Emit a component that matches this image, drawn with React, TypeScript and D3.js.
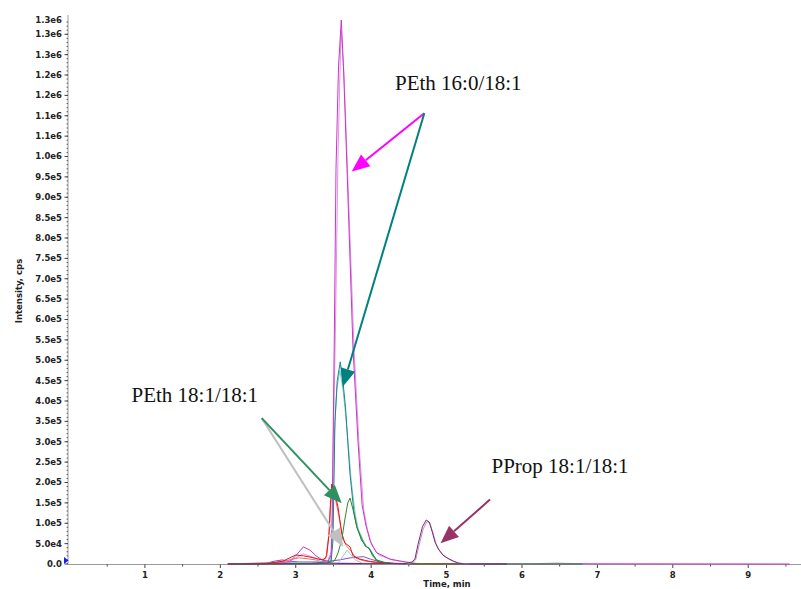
import React from "react";
import * as d3 from "d3";

// ---------- data (time in min, intensity in cps) ----------
const yTickValues = d3.range(0, 1300001, 50000);
const xTickValues = [1, 2, 3, 4, 5, 6, 7, 8, 9];

const magentaT = [2.1, 2.6, 2.92, 3.0, 3.1, 3.19, 3.27, 3.35, 3.43, 3.47, 3.48, 3.495, 3.51, 3.534, 3.567, 3.604, 3.633, 3.68, 3.759, 3.826, 3.88, 3.93, 3.99, 4.07, 4.25, 4.45, 4.6, 5.5, 7.0, 9.55];
const magentaV = [0, 1000, 5600, 20000, 42000, 34000, 20000, 10000, 7000, 22000, 83000, 300000, 530000, 970000, 1220000, 1335000, 1220000, 970000, 530000, 300000, 145000, 95000, 55000, 28000, 12000, 5000, 1000, 0, 500, 0];

const orchidT = [2.1, 2.7, 2.95, 3.1, 3.25, 3.42, 3.47, 3.485, 3.5, 3.525, 3.56, 3.6, 3.64, 3.69, 3.775, 3.84, 3.9, 3.95, 4.01, 4.1, 4.28, 4.48, 4.65, 5.5];
const orchidV = [0, 2000, 10000, 25000, 15000, 6000, 30000, 120000, 320000, 560000, 1000000, 1310000, 1200000, 950000, 520000, 290000, 135000, 85000, 45000, 22000, 10000, 4000, 800, 0];

const tealT = [2.1, 3.2, 3.47, 3.494, 3.507, 3.52, 3.55, 3.59, 3.63, 3.66, 3.69, 3.72, 3.77, 3.81, 3.87, 3.92, 3.97, 4.02, 4.08, 4.18, 4.4, 5.8];
const tealV = [0, 1000, 7000, 59000, 206000, 350000, 450000, 496000, 440000, 385000, 300000, 220000, 130000, 90000, 64000, 44000, 39000, 20000, 7000, 2500, 0, 0];

const cyanT = [2.1, 3.46, 3.485, 3.5, 3.515, 3.545, 3.585, 3.625, 3.66, 3.7, 3.735, 3.79, 3.83, 3.89, 3.94, 3.99, 4.04, 4.1, 4.2, 4.5];
const cyanV = [0, 6000, 50000, 190000, 330000, 430000, 475000, 430000, 370000, 285000, 205000, 120000, 85000, 60000, 42000, 36000, 18000, 6000, 2000, 0];

const redT = [2.1, 2.6, 2.83, 2.92, 3.0, 3.1, 3.19, 3.3, 3.37, 3.41, 3.44, 3.455, 3.477, 3.51, 3.56, 3.61, 3.65, 3.72, 3.76, 3.85, 3.99, 4.18, 4.5, 5.2];
const redV = [0, 1000, 7000, 15000, 22000, 20000, 17000, 12000, 10000, 20000, 71000, 133000, 196000, 180000, 140000, 76000, 52000, 42000, 20000, 12000, 6000, 2500, 500, 0];

const pinkRedT = [2.1, 2.8, 2.95, 3.05, 3.15, 3.3, 3.4, 3.445, 3.465, 3.485, 3.52, 3.57, 3.62, 3.67, 3.74, 3.8, 3.9, 4.1, 4.4];
const pinkRedV = [0, 4000, 12000, 15000, 13000, 9000, 14000, 80000, 150000, 185000, 165000, 120000, 65000, 45000, 30000, 14000, 8000, 2000, 0];

const greenT = [2.1, 3.3, 3.49, 3.52, 3.56, 3.61, 3.65, 3.69, 3.72, 3.76, 3.81, 3.87, 3.94, 3.97, 4.01, 4.07, 4.18, 4.32, 5.0, 6.8];
const greenV = [0, 500, 5000, 10000, 27000, 59000, 108000, 150000, 162000, 133000, 91000, 59000, 42000, 39000, 27000, 10000, 4000, 1000, 0, 0];

const lightBlueT = [3.3, 3.56, 3.63, 3.68, 3.72, 3.79, 3.88, 4.2, 6.0, 6.3, 6.45, 6.6, 6.9];
const lightBlueV = [0, 2000, 20000, 34000, 25000, 10000, 2000, 0, 0, 1500, 2500, 1500, 0];

const violetT = [2.1, 2.59, 2.72, 2.82, 2.92, 3.05, 3.32, 3.45, 3.58, 3.72, 3.83, 3.9, 3.99, 4.12, 4.25, 5.0];
const violetV = [0, 1000, 7000, 10000, 7000, 5000, 5000, 7000, 10000, 15000, 17000, 18000, 12000, 5000, 1000, 0];

const navyT = [2.1, 2.5, 3.0, 3.4, 3.9, 4.4, 5.2];
const navyV = [0, 800, 1500, 2000, 1200, 300, 0];

const ppropT = [2.1, 4.45, 4.54, 4.58, 4.62, 4.68, 4.73, 4.77, 4.81, 4.85, 4.89, 4.95, 5.02, 5.09, 5.15, 5.24, 5.8];
const ppropV = [0, 1000, 5000, 12000, 47000, 91000, 108000, 103000, 79000, 52000, 37000, 22000, 13500, 7000, 2500, 0, 0];

const ppropLightT = [4.45, 4.55, 4.59, 4.63, 4.69, 4.74, 4.78, 4.82, 4.86, 4.9, 4.96, 5.03, 5.1, 5.17, 5.3];
const ppropLightV = [0, 4000, 10000, 42000, 86000, 104000, 100000, 76000, 50000, 35000, 21000, 12500, 6000, 2000, 0];

// ---------- component ----------
const W = 801;
const H = 589;

type Series = { t: number[]; v: number[]; color: string; width: number };

const seriesList: Series[] = [
  { t: navyT, v: navyV, color: "#1c1c6a", width: 1 },
  { t: violetT, v: violetV, color: "#8a4fb0", width: 1 },
  { t: lightBlueT, v: lightBlueV, color: "#9cc3dc", width: 1 },
  { t: cyanT, v: cyanV, color: "#7cc8c8", width: 1 },
  { t: tealT, v: tealV, color: "#1d8585", width: 1 },
  { t: orchidT, v: orchidV, color: "#e094e0", width: 1 },
  { t: magentaT, v: magentaV, color: "#cc33cc", width: 1 },
  { t: pinkRedT, v: pinkRedV, color: "#f07070", width: 1 },
  { t: redT, v: redV, color: "#e01818", width: 1 },
  { t: greenT, v: greenV, color: "#2a8a2a", width: 1 },
  { t: ppropLightT, v: ppropLightV, color: "#c090c8", width: 1 },
  { t: ppropT, v: ppropV, color: "#7a2a7a", width: 1 },
];

type Arrow = { from: [number, number]; to: [number, number]; color: string };

const arrows: Arrow[] = [
  { from: [4.705, 1106000], to: [3.742, 963000], color: "#ff00ff" },
  { from: [4.705, 1106000], to: [3.623, 435000], color: "#008080" },
  { from: [2.549, 358000], to: [3.631, 42500], color: "#c0c0c0" },
  { from: [2.549, 358000], to: [3.61, 149000], color: "#2e9060" },
  { from: [5.576, 158000], to: [4.92, 51000], color: "#993366" },
];

const labels: { text: string; t: number; v: number }[] = [
  { text: "PEth 16:0/18:1", t: 4.316, v: 1163000 },
  { text: "PEth 18:1/18:1", t: 0.822, v: 398000 },
  { text: "PProp 18:1/18:1", t: 5.596, v: 223000 },
];

function fmtY(v: number): string {
  if (v === 0) return "0.0";
  return v.toExponential(1).replace("e+", "e");
}

export default function App() {
  const x = d3.scaleLinear().domain([-0.02, 9.7]).range([68, 801]);
  const y = d3.scaleLinear().domain([0, 1336000]).range([564, 19.6]);

  const line = d3
    .line<[number, number]>()
    .x((d) => x(d[0]))
    .y((d) => y(d[1]))
    .curve(d3.curveLinear);

  const minorY = d3.range(0, 1336001, 10000);
  const minorX = d3.range(0, 9.71, 0.5).filter((d) => !Number.isInteger(d));

  const tickFont = "'DejaVu Sans', sans-serif";

  return (
    <svg
      width={W}
      height={H}
      style={{ position: "absolute", left: 0, top: 0, background: "#fff" }}
    >
      <rect x={0} y={0} width={W} height={H} fill="#fff" />

      {/* axes */}
      <line x1={68} x2={68} y1={15} y2={564} stroke="#9a9a9a" strokeWidth={1} />
      <line x1={68} x2={801} y1={564.5} y2={564.5} stroke="#9a9a9a" strokeWidth={1} />
      {minorY.map((v) => (
        <line key={"my" + v} x1={66.5} x2={68} y1={y(v)} y2={y(v)} stroke="#444" strokeWidth={0.8} />
      ))}
      {yTickValues.map((v) => (
        <g key={"y" + v}>
          <line x1={64.5} x2={68} y1={y(v)} y2={y(v)} stroke="#444" strokeWidth={1} />
          <text
            x={62}
            y={y(v)}
            dy="0.35em"
            textAnchor="end"
            fontFamily={tickFont}
            fontWeight="bold"
            fontSize={8.5}
            fill="#222"
          >
            {fmtY(v)}
          </text>
        </g>
      ))}
      <text
        x={62}
        y={20}
        dy="0.35em"
        textAnchor="end"
        fontFamily={tickFont}
        fontWeight="bold"
        fontSize={8.5}
        fill="#222"
      >
        {fmtY(1336000)}
      </text>

      {minorX.map((t) => (
        <line key={"mx" + t} x1={x(t)} x2={x(t)} y1={564.5} y2={566.5} stroke="#444" strokeWidth={1} />
      ))}
      {xTickValues.map((t) => (
        <g key={"x" + t}>
          <line x1={x(t)} x2={x(t)} y1={564.5} y2={568} stroke="#444" strokeWidth={1} />
          <text
            x={x(t)}
            y={575}
            dy="0.35em"
            textAnchor="middle"
            fontFamily={tickFont}
            fontWeight="bold"
            fontSize={8.5}
            fill="#222"
          >
            {t}
          </text>
        </g>
      ))}
      <text
        x={447}
        y={584}
        dy="0.35em"
        textAnchor="middle"
        fontFamily={tickFont}
        fontWeight="bold"
        fontSize={8.5}
        fill="#222"
      >
        Time, min
      </text>
      <text
        transform="translate(19,291) rotate(-90)"
        dy="0.35em"
        textAnchor="middle"
        fontFamily={tickFont}
        fontWeight="bold"
        fontSize={8.5}
        fill="#222"
      >
        Intensity, cps
      </text>

      {/* origin marker */}
      <polygon points="64,557 64,564 68.5,560.5" fill="#1a1aff" />

      {/* traces */}
      {seriesList.map((s, i) => {
        const pts: [number, number][] = s.t.map((t, k) => [t, s.v[k]]);
        return (
          <path
            key={"s" + i}
            d={line(pts) || ""}
            fill="none"
            stroke={s.color}
            strokeWidth={s.width}
            strokeLinejoin="round"
          />
        );
      })}

      {/* arrows */}
      {arrows.map((a, i) => {
        const x1 = x(a.from[0]);
        const y1 = y(a.from[1]);
        const x2 = x(a.to[0]);
        const y2 = y(a.to[1]);
        const ang = Math.atan2(y2 - y1, x2 - x1);
        const len = 18;
        const hw = 7.5;
        const bx = x2 - len * Math.cos(ang);
        const by = y2 - len * Math.sin(ang);
        const px = -Math.sin(ang) * hw;
        const py = Math.cos(ang) * hw;
        return (
          <g key={"a" + i}>
            <line x1={x1} y1={y1} x2={bx} y2={by} stroke={a.color} strokeWidth={2} />
            <polygon
              points={`${x2},${y2} ${bx + px},${by + py} ${bx - px},${by - py}`}
              fill={a.color}
            />
          </g>
        );
      })}

      {/* labels */}
      {labels.map((l) => (
        <text
          key={l.text}
          x={x(l.t)}
          y={y(l.v)}
          fontFamily="'Liberation Serif', 'Times New Roman', serif"
          fontSize={21}
          fill="#111"
        >
          {l.text}
        </text>
      ))}
    </svg>
  );
}
